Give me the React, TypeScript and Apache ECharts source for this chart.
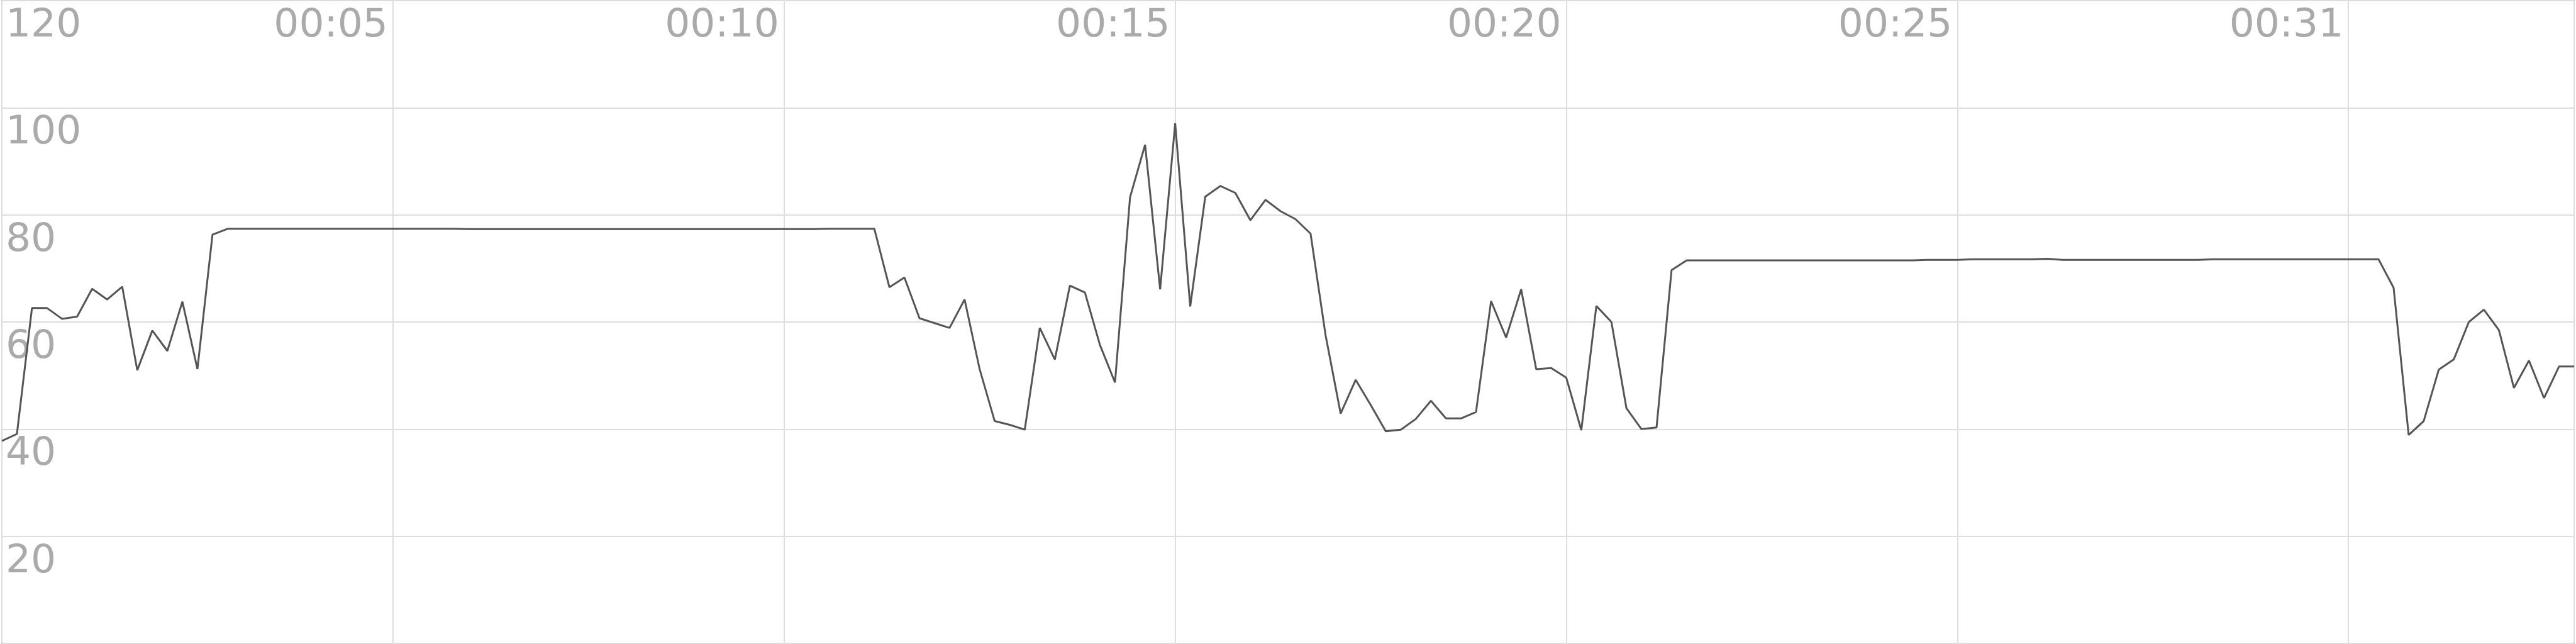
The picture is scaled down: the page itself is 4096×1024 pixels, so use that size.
import React, { useEffect, useRef } from "react";
import * as echarts from "echarts";

// Sample index every ~0.19 s; tick every 26 samples (5 s)
const tickLabels = ["", "00:05", "00:10", "00:15", "00:20", "00:25", "00:31"];
const yTicks = [0, 20, 40, 60, 80, 100, 120];

const startValues = [37.8, 39.1, 62.6, 62.6, 60.6, 61.0, 66.2, 64.2, 66.6, 51.0, 58.4, 54.6, 63.8, 51.2, 76.3];
const plateauA = [
  77.4, 77.4, 77.4, 77.4, 77.4, 77.4, 77.4, 77.4, 77.4, 77.4, 77.4, 77.4, 77.4, 77.4, 77.4,
  77.4, 77.35, 77.35, 77.35, 77.35, 77.35, 77.35, 77.35, 77.35, 77.35, 77.35, 77.35, 77.35, 77.35, 77.35,
  77.35, 77.35, 77.35, 77.35, 77.35, 77.35, 77.35, 77.35, 77.35, 77.35, 77.4, 77.4, 77.4, 77.4,
];
const middleValues = [
  66.5, 68.3, 60.7, 59.8, 58.9, 64.2, 51.2, 41.5, 40.8, 39.9, 58.9, 53.0, 66.8, 65.5, 55.7,
  48.7, 83.3, 93.1, 66.1, 97.1, 62.9, 83.4, 85.4, 84.1, 79.0, 82.8, 80.7, 79.2, 76.5, 57.5,
  42.9, 49.2, 44.5, 39.6, 39.9, 41.9, 45.3, 42.0, 42.0, 43.2, 63.9, 57.1, 66.1, 51.2, 51.4,
  49.6, 39.8, 63.0, 60.0, 43.9, 40.0, 40.3, 69.7,
];
const plateauB = [
  71.5, 71.5, 71.5, 71.5, 71.5, 71.5, 71.5, 71.5, 71.5, 71.5, 71.5, 71.5, 71.5, 71.5, 71.5,
  71.5, 71.6, 71.6, 71.6, 71.7, 71.7, 71.7, 71.7, 71.7, 71.8, 71.6, 71.6, 71.6, 71.6, 71.6,
  71.6, 71.6, 71.6, 71.6, 71.6, 71.7, 71.7, 71.7, 71.7, 71.7, 71.7, 71.7, 71.7, 71.7, 71.7,
  71.7, 71.7,
];
const endValues = [66.4, 38.9, 41.5, 51.1, 53.0, 60.0, 62.3, 58.5, 47.7, 52.8, 45.8, 51.7, 51.7];

const values = [...startValues, ...plateauA, ...middleValues, ...plateauB, ...endValues];

export default function App() {
  const ref = useRef<HTMLDivElement>(null);
  useEffect(() => {
    document.body.style.margin = "0";
    const chart = echarts.init(ref.current!, null, { renderer: "svg" });
    const labelFont = {
      fontFamily: "DejaVu Sans",
      fontSize: 63,
      color: "#aaaaaa",
    };
    chart.setOption({
      animation: false,
      backgroundColor: "#ffffff",
      grid: {
        left: 1,
        right: 1,
        top: 1,
        bottom: 1,
        show: true,
        borderColor: "#b4b4b4",
        borderWidth: 2,
        backgroundColor: "transparent",
      },
      xAxis: {
        type: "value",
        position: "top",
        min: 0,
        max: values.length - 1,
        interval: 26,
        axisLine: { show: false },
        axisTick: { show: false },
        splitLine: { show: true, lineStyle: { color: "#dddddd", width: 2 } },
        axisLabel: {
          inside: true,
          margin: 0,
          align: "right",
          verticalAlign: "top",
          padding: [4, 8, 0, 0],
          showMinLabel: true,
          showMaxLabel: true,
          ...labelFont,
          formatter: (v: number) => {
            const k = Math.round(v / 26);
            if (Math.abs(v - k * 26) > 0.01) return "";
            return tickLabels[k] ?? "";
          },
        },
      },
      yAxis: {
        type: "value",
        min: 0,
        max: 120,
        interval: 20,
        axisLine: { show: false },
        axisTick: { show: false },
        splitLine: { show: true, lineStyle: { color: "#dddddd", width: 2 } },
        axisLabel: {
          inside: true,
          margin: 6,
          align: "left",
          verticalAlign: "top",
          padding: [4, 0, 0, 0],
          showMinLabel: true,
          showMaxLabel: true,
          ...labelFont,
          formatter: (v: number) => (v === yTicks[0] ? "" : String(v)),
        },
      },
      series: [
        {
          type: "line",
          data: values.map((v, i) => [i, v]),
          symbol: "none",
          lineStyle: { color: "#555555", width: 3 },
          z: 5,
        },
      ],
    });
    return () => chart.dispose();
  }, []);
  return <div ref={ref} style={{ width: 4096, height: 1024 }} />;
}
